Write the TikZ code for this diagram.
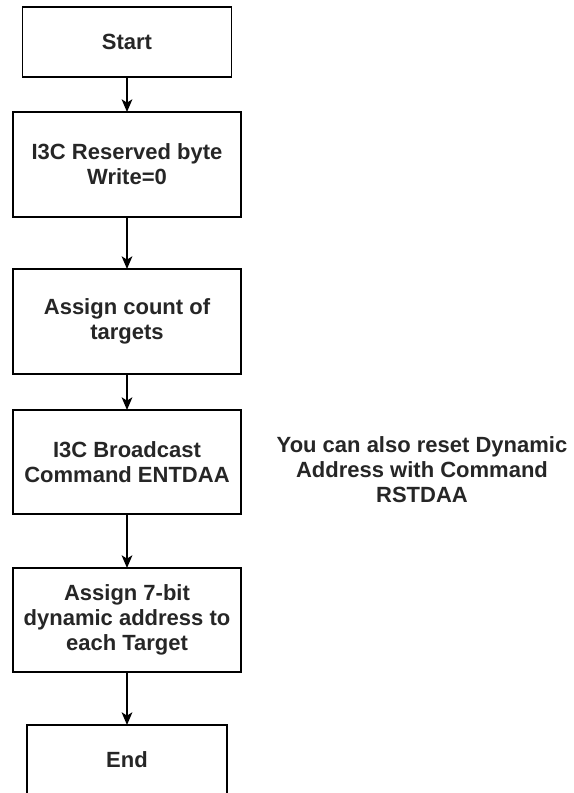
\documentclass[tikz,border=0pt]{standalone}
\usepackage{fontspec}
\setmainfont{Liberation Sans}
\usepackage{tikz}
\usetikzlibrary{positioning,arrows.meta}

\begin{document}
\begin{tikzpicture}[x = 0.75pt, y = -0.75pt,
  stepbox/.style = {draw = black, line width = 1.4pt, minimum width = 171pt, minimum height = 78.75pt, align = center, inner sep = 0pt, outer sep = 0pt, text = black!85},
  flow/.style = {draw = black, line width = 1.4pt, -{Stealth[length = 9.5pt, width = 8pt, inset = 2.5pt]}},
  font = \fontsize{16.5}{18.75}\selectfont\bfseries]
\useasboundingbox (0,0) rectangle (574,793);
\clip (0,0) rectangle (574,793);
\node (start) [stepbox, minimum width = 156.75pt, minimum height = 52.5pt] at (127,42) {Start};
\node (reserved) [stepbox, below = 26.25pt of start] {I3C Reserved byte\\Write=0};
\node (count) [stepbox, below = 39pt of reserved] {Assign count of\\targets};
\node (entdaa) [stepbox, minimum height = 78pt, below = 27pt of count] {I3C Broadcast\\Command ENTDAA};
\node (assign) [stepbox, minimum height = 78pt, below = 40.5pt of entdaa] {Assign 7-bit\\dynamic address to\\each Target};
\node (end) [stepbox, minimum width = 150pt, minimum height = 52.5pt, below = 39.75pt of assign] {End};
\node (note) [align = center, text = black!85, right = 23.25pt of entdaa, yshift = -6pt] {You can also reset Dynamic\\Address with Command\\RSTDAA};
\draw[flow] (start.south) -- (reserved.north);
\draw[flow] (reserved.south) -- (count.north);
\draw[flow] (count.south) -- (entdaa.north);
\draw[flow] (entdaa.south) -- (assign.north);
\draw[flow] (assign.south) -- (end.north);
\end{tikzpicture}
\end{document}
